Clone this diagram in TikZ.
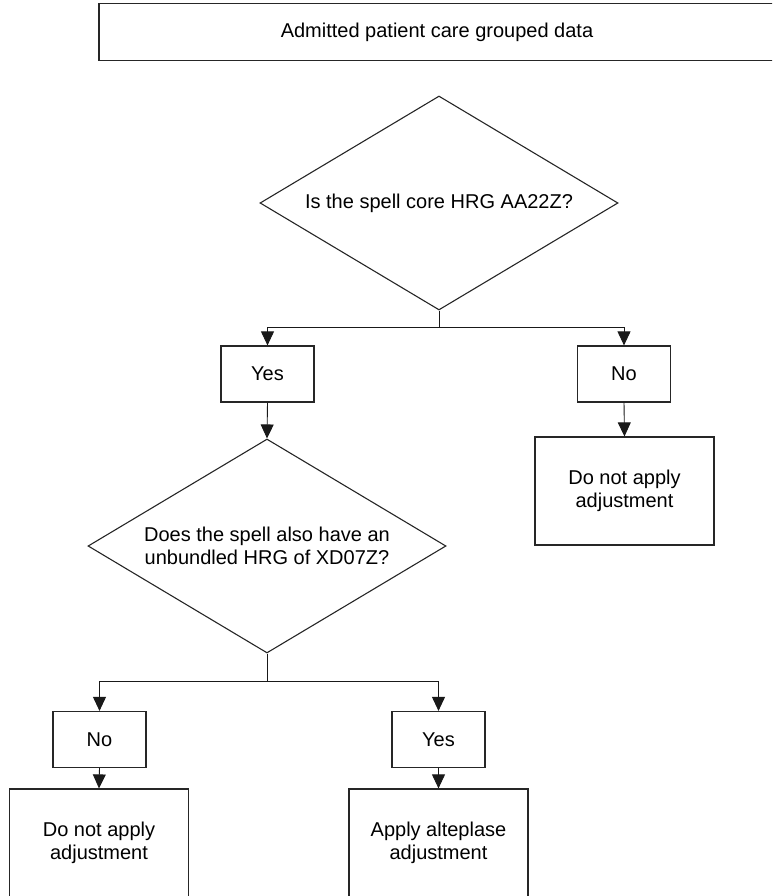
\documentclass[tikz,border=0pt]{standalone}
\usepackage{fontspec}
\setmainfont{Liberation Sans}
\usetikzlibrary{shapes.geometric,arrows.meta}

\begin{document}
\begin{tikzpicture}[x=1pt,y=-1pt,
  every node/.style={font=\fontsize{20}{23.5}\selectfont, align=center},
  box/.style={draw=black!85, line width=1.2pt, rectangle, inner sep=0pt},
  answer/.style={box, minimum width=93pt, minimum height=56pt},
  result/.style={box, minimum width=179pt, minimum height=108pt},
  question/.style={draw=black!85, line width=1.1pt, diamond, shape aspect=1.67,
                   inner sep=0pt, minimum width=358pt, minimum height=214pt},
  flow/.style={draw=black!90, line width=0.9pt},
  arr/.style={flow, -{Triangle[length=14pt,width=13pt]}}
]
\clip (0,0) rectangle (772,896);

% header box (runs off the right edge)
\node[box, minimum width=676pt, minimum height=57pt] (data) at (437,32) {Admitted patient care grouped data};

% first decision
\node[question] (q1) at (439,203) {Is the spell core HRG AA22Z?};
\node[answer] (yes1) at (267.5,374) {Yes};
\node[answer] (no1)  at (624,374) {No};
\node[result] (skip1) at (624.5,491) {Do not apply\\adjustment};

% second decision
\node[question] (q2) at (267,546) {Does the spell also have an\\unbundled HRG of XD07Z?};
\node[answer] (no2)  at (99.5,739.5) {No};
\node[answer] (yes2) at (438.5,739.5) {Yes};
\node[result] (skip2) at (99,843) {Do not apply\\adjustment};
\node[result] (apply) at (438.5,843) {Apply alteplase\\adjustment};

% connectors
\coordinate (fork1) at (439,327);
\draw[flow] (q1.south) -- (fork1);
\draw[arr] (fork1) -| (yes1.north);
\draw[arr] (fork1) -| (no1.north);
\draw[arr] (yes1.south) -- (q2.north);
\draw[arr] (no1.south) -- (skip1.north);

\coordinate (fork2) at (267,681);
\draw[flow] (q2.south) -- (fork2);
\draw[arr] (fork2) -| (no2.north);
\draw[arr] (fork2) -| (yes2.north);
\draw[arr] (no2.south) -- (skip2.north);
\draw[arr] (yes2.south) -- (apply.north);
\end{tikzpicture}
\end{document}
